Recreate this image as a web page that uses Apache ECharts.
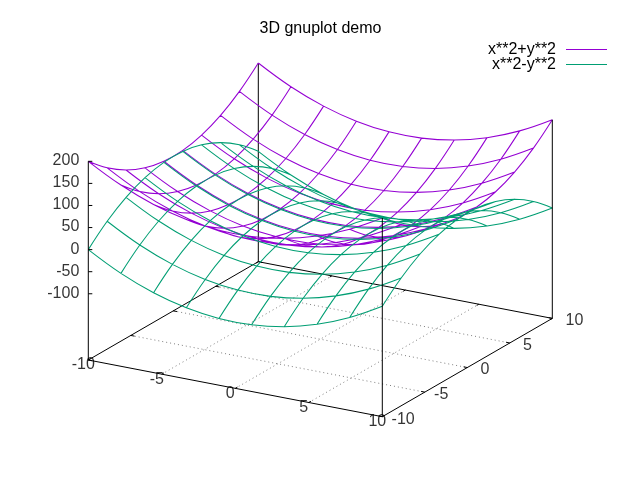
<!DOCTYPE html>
<html><head><meta charset="utf-8">
<style>html,body{margin:0;padding:0;background:#fff}#c{width:640px;height:480px}</style>
<script src="https://cdn.jsdelivr.net/npm/echarts@6/dist/echarts.min.js"></script>
</head><body><div id="c"></div>
<script>
const samples = [-10,-7.78,-5.56,-3.33,-1.11,1.11,3.33,5.56,7.78,10];
const sumSurface = [
 [200,160.5,130.9,111.1,101.2,101.2,111.1,130.9,160.5,200],
 [160.5,121,91.4,71.6,61.7,61.7,71.6,91.4,121,160.5],
 [130.9,91.4,61.7,42,32.1,32.1,42,61.7,91.4,130.9],
 [111.1,71.6,42,22.2,12.3,12.3,22.2,42,71.6,111.1],
 [101.2,61.7,32.1,12.3,2.5,2.5,12.3,32.1,61.7,101.2],
 [101.2,61.7,32.1,12.3,2.5,2.5,12.3,32.1,61.7,101.2],
 [111.1,71.6,42,22.2,12.3,12.3,22.2,42,71.6,111.1],
 [130.9,91.4,61.7,42,32.1,32.1,42,61.7,91.4,130.9],
 [160.5,121,91.4,71.6,61.7,61.7,71.6,91.4,121,160.5],
 [200,160.5,130.9,111.1,101.2,101.2,111.1,130.9,160.5,200]
];
const diffSurface = [
 [0,39.5,69.1,88.9,98.8,98.8,88.9,69.1,39.5,0],
 [-39.5,0,29.6,49.4,59.3,59.3,49.4,29.6,0,-39.5],
 [-69.1,-29.6,0,19.8,29.6,29.6,19.8,0,-29.6,-69.1],
 [-88.9,-49.4,-19.8,0,9.9,9.9,0,-19.8,-49.4,-88.9],
 [-98.8,-59.3,-29.6,-9.9,0,0,-9.9,-29.6,-59.3,-98.8],
 [-98.8,-59.3,-29.6,-9.9,0,0,-9.9,-29.6,-59.3,-98.8],
 [-88.9,-49.4,-19.8,0,9.9,9.9,0,-19.8,-49.4,-88.9],
 [-69.1,-29.6,0,19.8,29.6,29.6,19.8,0,-29.6,-69.1],
 [-39.5,0,29.6,49.4,59.3,59.3,49.4,29.6,0,-39.5],
 [0,39.5,69.1,88.9,98.8,98.8,88.9,69.1,39.5,0]
];
const xyTicks = [-10,-5,0,5,10];
const zTicks = [200,150,100,50,0,-50,-100];
const seriesNames = ['x**2+y**2','x**2-y**2'];
const chartTitle = '3D gnuplot demo';

// gnuplot view 60,30 projection: data space to the 640x480 plane
const ORIGIN=[88.3,360], EX=[294,56.7], EY=[170,-98.3], ZK=0.4415, ZBASE=-250, ZTOP=200;
function proj(x,y,z){
  const u=(x+10)/20, v=(y+10)/20;
  return [ORIGIN[0]+u*EX[0]+v*EY[0], ORIGIN[1]+u*EX[1]+v*EY[1]-(z-ZBASE)*ZK];
}
const GAP=[NaN,NaN];
function surfacePath(tbl){
  const out=[];
  samples.forEach((x,i)=>{ samples.forEach((y,j)=>out.push(proj(x,y,tbl[i][j]))); out.push(GAP); });
  samples.forEach((y,j)=>{ samples.forEach((x,i)=>out.push(proj(x,y,tbl[i][j]))); out.push(GAP); });
  return out;
}
function segs(list){ const o=[]; list.forEach(s=>{o.push(s[0],s[1],GAP)}); return o; }
const inner=xyTicks.slice(1,-1);
const gridSegs=[];
inner.forEach(t=>{
  gridSegs.push([proj(t,-10,ZBASE),proj(t,10,ZBASE)]);
  gridSegs.push([proj(-10,t,ZBASE),proj(10,t,ZBASE)]);
});
const backSegs=[
  [proj(-10,10,ZBASE),proj(-10,10,ZTOP)],
  [proj(-10,-10,ZBASE),proj(-10,10,ZBASE)],
  [proj(-10,10,ZBASE),proj(10,10,ZBASE)]
];
const TL=0.25;
xyTicks.forEach(t=>{
  backSegs.push([proj(t,10,ZBASE),proj(t,10-TL,ZBASE)]);
  backSegs.push([proj(-10,t,ZBASE),proj(-10+TL,t,ZBASE)]);
});
const frontSegs=[
  [proj(-10,-10,ZBASE),proj(-10,-10,ZTOP)],
  [proj(10,-10,ZBASE),proj(10,-10,ZTOP)],
  [proj(10,10,ZBASE),proj(10,10,ZTOP)],
  [proj(-10,-10,ZBASE),proj(10,-10,ZBASE)],
  [proj(10,-10,ZBASE),proj(10,10,ZBASE)]
];
xyTicks.forEach(t=>{
  frontSegs.push([proj(t,-10,ZBASE),proj(t,-10+TL,ZBASE)]);
  frontSegs.push([proj(10,t,ZBASE),proj(10-TL,t,ZBASE)]);
});
zTicks.forEach(z=>{
  const p=proj(-10,-10,z);
  frontSegs.push([p,[p[0]+4,p[1]]]);
});
const FONT='"Liberation Sans", Arial, sans-serif', TXT='#000';
function lineS(name,data,color,extra){
  return Object.assign({type:'line',name,data,symbol:'none',silent:true,connectNulls:false,
    showSymbol:false,lineStyle:{color,width:1},itemStyle:{color},animation:false},extra||{});
}
function labelS(data){
  return {type:'scatter',symbolSize:0,silent:true,animation:false,data,
    label:{show:true,color:TXT,fontFamily:FONT,fontSize:16,formatter:p=>p.data.text}};
}
const zLabels=zTicks.map(z=>{const p=proj(-10,-10,z);
  return {value:[p[0],p[1]-0.5],text:String(z),label:{position:[-9,0],align:'right',verticalAlign:'middle'}};});
const xLabels=xyTicks.map(t=>{const p=proj(t,-10,ZBASE);
  return {value:[p[0],p[1]],text:String(t),label:{position:[-5,5],align:'center',verticalAlign:'middle'}};});
const yLabels=xyTicks.map(t=>{const p=proj(10,t,ZBASE);
  return {value:[p[0],p[1]],text:String(t),label:{position:[t<0?9.3:13.3,2.5],align:'left',verticalAlign:'middle'}};});
const surfaceStyle=c=>({smooth:0.4,lineStyle:{color:c,width:1.05}});
const chart=echarts.init(document.getElementById('c'),null,{renderer:'canvas'});
chart.setOption({
  animation:false,backgroundColor:'#fff',tooltip:{show:false},
  title:{text:chartTitle,left:315.5,top:16,textAlign:'center',
    textStyle:{fontFamily:FONT,fontSize:16,fontWeight:'normal',color:TXT,lineHeight:16}},
  legend:{data:seriesNames,orient:'vertical',align:'right',right:33,top:40,itemGap:-4,itemWidth:41,itemHeight:1,icon:'rect',
    padding:0,selectedMode:false,textStyle:{fontFamily:FONT,fontSize:16,color:TXT,lineHeight:15,padding:[0,5,4,0]}},
  grid:{left:0,top:0,width:640,height:480},
  xAxis:{type:'value',min:0,max:640,show:false},
  yAxis:{type:'value',min:0,max:480,inverse:true,show:false},
  series:[
    lineS('grid',segs(gridSegs),'#808080',{lineStyle:{color:'#808080',width:1,type:[1,3]}}),
    lineS('back',segs(backSegs),'#000'),
    lineS(seriesNames[0],surfacePath(sumSurface),'#9400d3',surfaceStyle('#9400d3')),
    lineS(seriesNames[1],surfacePath(diffSurface),'#009e73',surfaceStyle('#009e73')),
    lineS('front',segs(frontSegs),'#000'),
    labelS(zLabels),labelS(xLabels),labelS(yLabels)
  ]
});
</script></body></html>
